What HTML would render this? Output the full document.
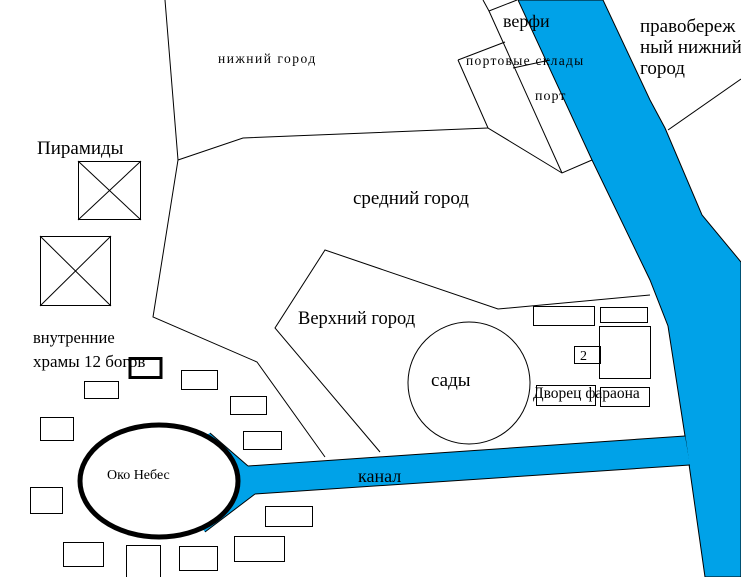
<!DOCTYPE html>
<html><head><meta charset="utf-8"><style>
html,body{margin:0;padding:0;background:#fff;}
svg{display:block;}
text{font-family:"Liberation Serif",serif;fill:#000;}
</style></head><body>
<svg width="741" height="577" viewBox="0 0 741 577" xmlns="http://www.w3.org/2000/svg">
<rect width="741" height="577" fill="#fff"/>
<polygon points="518,0 603,0 650,100 665,128 702,215 741,262 741,577 705,577 685,436 668,326 650,280 592,160" fill="#00a2e8" stroke="#000" stroke-width="1"/>
<polygon points="210,433 248,466 685,436 690,465 255,494 205,532 180,500 180,450" fill="#00a2e8"/>
<line x1="248" y1="466" x2="685" y2="436" stroke="#000"/>
<line x1="255" y1="494" x2="690" y2="465" stroke="#000"/>
<line x1="210" y1="433" x2="248" y2="466" stroke="#000"/>
<line x1="255" y1="494" x2="205" y2="532" stroke="#000"/>
<ellipse cx="159" cy="481" rx="79" ry="56" fill="#fff" stroke="#000" stroke-width="5"/>
<g stroke="#000" stroke-width="1" fill="none">
<polyline points="165,0 178,160 153,317 257,362 325,457"/>
<polyline points="178,160 243,138 488,128"/>
<polyline points="458,60 488,128 562,173 592,160"/>
<polyline points="483,0 489,11 517,0"/>
<line x1="489" y1="11" x2="562" y2="173"/>
<line x1="458" y1="60" x2="505" y2="42"/>
<line x1="513" y1="68" x2="550" y2="60"/>
<line x1="668" y1="130" x2="741" y2="79"/>
<polyline points="380,452 275,328 325,250 498,309 650,295"/>
<rect x="78.5" y="161.5" width="62" height="58"/>
<line x1="78" y1="161" x2="141" y2="220"/><line x1="141" y1="161" x2="78" y2="220"/>
<rect x="40.5" y="236.5" width="70" height="69"/>
<line x1="40" y1="236" x2="111" y2="306"/><line x1="111" y1="236" x2="40" y2="306"/>
<rect x="181.5" y="370.5" width="36" height="19"/>
<rect x="84.5" y="381.5" width="34" height="17"/>
<rect x="230.5" y="396.5" width="36" height="18"/>
<rect x="40.5" y="417.5" width="33" height="23"/>
<rect x="243.5" y="431.5" width="38" height="18"/>
<rect x="30.5" y="487.5" width="32" height="26"/>
<rect x="265.5" y="506.5" width="47" height="20"/>
<rect x="63.5" y="542.5" width="40" height="24"/>
<polyline points="126.5,577 126.5,545.5 160.5,545.5 160.5,577"/>
<rect x="179.5" y="546.5" width="38" height="24"/>
<rect x="234.5" y="536.5" width="50" height="25"/>
<circle cx="469" cy="383" r="61"/>
<rect x="533.5" y="306.5" width="61" height="19"/>
<rect x="600.5" y="307.5" width="47" height="15"/>
<rect x="599.5" y="326.5" width="51" height="52"/>
<rect x="574.5" y="346.5" width="26" height="17"/>
<rect x="536.5" y="385.5" width="59" height="20"/>
<rect x="600.5" y="387.5" width="49" height="19"/>
</g>
<rect x="130" y="358.5" width="31" height="19" fill="none" stroke="#000" stroke-width="3"/>
<text x="218" y="63" font-size="13.5" letter-spacing="1.5">нижний город</text>
<text x="37" y="154" font-size="19">Пирамиды</text>
<text x="353" y="204" font-size="19">средний город</text>
<text x="298" y="324" font-size="18.5">Верхний город</text>
<text x="33" y="343" font-size="16.5">внутренние</text>
<text x="33" y="367" font-size="17">храмы 12 богов</text>
<text x="107" y="479" font-size="14">Око Небес</text>
<text x="358" y="482" font-size="18">канал</text>
<text x="431" y="386" font-size="19">сады</text>
<text x="580" y="360" font-size="14">2</text>
<text x="533" y="398" font-size="15.5">Дворец фараона</text>
<text x="503" y="27" font-size="18">верфи</text>
<text x="466" y="65" font-size="13.5" letter-spacing="1.3">портовые склады</text>
<text x="535" y="100" font-size="14" letter-spacing="1">порт</text>
<text x="640" y="32" font-size="19">правобереж</text>
<text x="640" y="53" font-size="19">ный нижний</text>
<text x="640" y="74" font-size="19">город</text>
</svg>
</body></html>
